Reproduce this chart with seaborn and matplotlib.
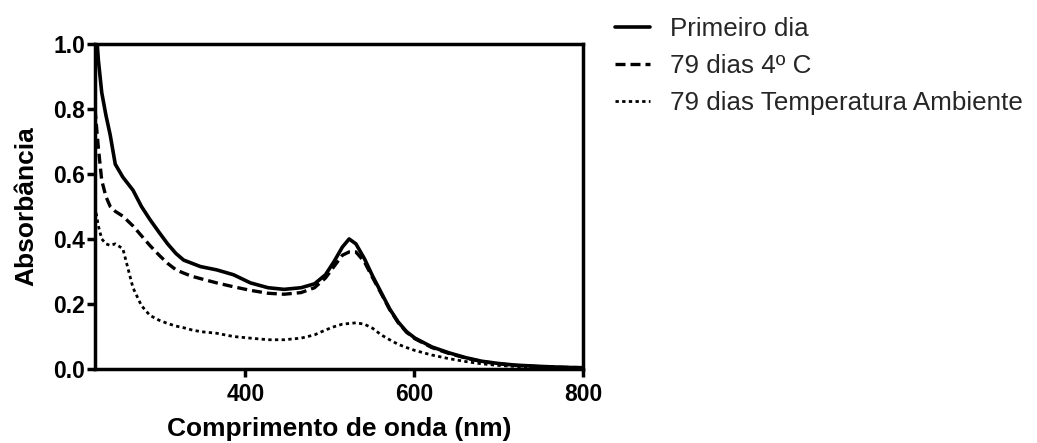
import pandas as pd
import matplotlib.pyplot as plt
import seaborn as sns
from matplotlib.lines import Line2D

# DATA

wavelength = [222, 226, 230, 235, 240, 246, 255, 267, 277, 287, 298, 308, 318, 327,
              337, 347, 366, 386, 406, 427, 446, 466, 482, 495, 505, 515, 523, 531,
              541, 551, 561, 571, 581, 591, 601, 621, 641, 661, 680, 700, 720, 750,
              780, 800]

primeiro_dia = [1.10, 0.95, 0.85, 0.78, 0.72, 0.63, 0.59, 0.55, 0.50, 0.46, 0.42, 0.385,
                0.355, 0.335, 0.325, 0.315, 0.305, 0.29, 0.265, 0.25, 0.245, 0.25, 0.262,
                0.29, 0.33, 0.375, 0.40, 0.385, 0.34, 0.285, 0.235, 0.185, 0.145, 0.115,
                0.095, 0.068, 0.05, 0.035, 0.024, 0.017, 0.012, 0.008, 0.005, 0.004]

dias79_4c = [0.80, 0.68, 0.58, 0.53, 0.50, 0.485, 0.47, 0.44, 0.41, 0.38, 0.35, 0.325,
             0.305, 0.295, 0.285, 0.278, 0.265, 0.253, 0.242, 0.233, 0.23, 0.235, 0.25,
             0.28, 0.315, 0.35, 0.36, 0.36, 0.33, 0.28, 0.232, 0.183, 0.143, 0.113,
             0.093, 0.066, 0.048, 0.034, 0.023, 0.016, 0.011, 0.007, 0.005, 0.004]

dias79_amb = [0.50, 0.44, 0.40, 0.385, 0.38, 0.385, 0.37, 0.25, 0.195, 0.165, 0.15, 0.14,
              0.132, 0.127, 0.12, 0.115, 0.11, 0.10, 0.095, 0.09, 0.09, 0.095, 0.105,
              0.12, 0.13, 0.138, 0.14, 0.142, 0.138, 0.125, 0.105, 0.09, 0.076, 0.066,
              0.057, 0.043, 0.032, 0.023, 0.016, 0.011, 0.008, 0.005, 0.004, 0.003]

series_names = ['Primeiro dia', '79 dias 4º C', '79 dias Temperatura Ambiente']

# PLOTTING

df = pd.concat([
    pd.DataFrame({'wl': wavelength, 'abs': vals, 'Amostra': name})
    for name, vals in zip(series_names, [primeiro_dia, dias79_4c, dias79_amb])
])

sns.set_style('ticks')
plt.rcParams['font.family'] = ['Liberation Sans', 'DejaVu Sans']

fig = plt.figure(figsize=(10.37, 4.43), dpi=100)
ax = fig.add_axes([0.0916, 0.167, 0.4706, 0.734])

dash_map = {series_names[0]: '', series_names[1]: (3, 1.5), series_names[2]: (1.2, 1.2)}
widths = [2.6, 2.4, 2.0]

for name, lw in zip(series_names, widths):
    sub = df[df['Amostra'] == name]
    sns.lineplot(data=sub, x='wl', y='abs', color='black', lw=lw, ax=ax,
                 dashes=False, legend=False)
    line = ax.lines[-1]
    if dash_map[name]:
        line.set_dashes(dash_map[name])

ax.set_xlim(222, 800)
ax.set_ylim(0, 1.0)
ax.set_xticks([400, 600, 800])
ax.set_yticks([0.0, 0.2, 0.4, 0.6, 0.8, 1.0])
ax.set_yticklabels(['0.0', '0.2', '0.4', '0.6', '0.8', '1.0'])
for sp in ax.spines.values():
    sp.set_linewidth(2.5)
    sp.set_color('black')
    sp.set_visible(True)
ax.tick_params(width=2.5, length=6, labelsize=16.5, pad=1, color='black',
               labelcolor='black')
ax.tick_params(axis='x', pad=4)
for lab in ax.get_xticklabels() + ax.get_yticklabels():
    lab.set_fontweight('bold')

ax.set_xlabel('Comprimento de onda (nm)', fontsize=19, fontweight='bold',
              labelpad=8, color='black')
ax.set_ylabel('Absorbância', fontsize=19, fontweight='bold', labelpad=11,
              color='black')

handles = [
    Line2D([], [], color='black', lw=2.6),
    Line2D([], [], color='black', lw=2.4, dashes=(3, 1.5)),
    Line2D([], [], color='black', lw=2.0, dashes=(1.2, 1.2)),
]
fig.legend(handles, series_names, loc='upper left', bbox_to_anchor=(0.5705, 1.014),
           frameon=False, fontsize=18.7, handlelength=1.35, handletextpad=0.75,
           labelspacing=0.5)

fig.savefig('out.png', dpi=100)
